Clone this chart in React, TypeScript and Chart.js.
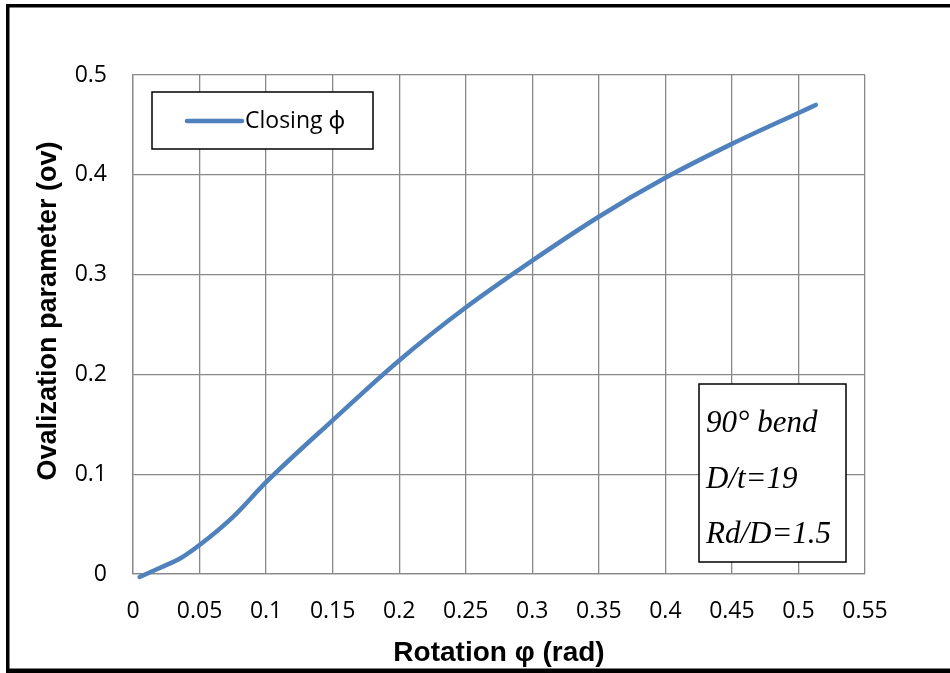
import React, { useEffect, useRef } from 'react';
import { Chart, registerables } from 'chart.js';

Chart.register(...registerables);

// ---- data ----
const seriesLabel = 'Closing ϕ';
const rotation = [0.005, 0.02, 0.036, 0.05, 0.075, 0.1, 0.15, 0.2, 0.25, 0.3, 0.35, 0.4, 0.45, 0.5, 0.513];
const ovalization = [-0.003, 0.006, 0.016, 0.029, 0.057, 0.092, 0.154, 0.214, 0.267, 0.314, 0.358, 0.397, 0.431, 0.462, 0.47];
const xAxisTitle = 'Rotation φ (rad)';
const yAxisTitle = 'Ovalization parameter (ov)';
const noteLines = ['90° bend', 'D/t=19', 'Rd/D=1.5'];

const LINE_COLOR = '#4F81BD';
const GRID_COLOR = '#888888';
const TICK_FONT = '"Open Sans", "Noto Sans", sans-serif';
const TITLE_FONT = '"Liberation Sans", Arial, sans-serif';

const decorPlugin = {
  id: 'decor',
  afterDraw(chart: any) {
    const ctx = chart.ctx as CanvasRenderingContext2D;
    const area = chart.chartArea;
    ctx.save();

    // outer frame
    ctx.fillStyle = '#000';
    ctx.fillRect(6, 4, 3.5, 673);
    ctx.fillRect(6, 4, 944, 3.5);
    ctx.fillRect(6, 668.5, 944, 5);

    // y-axis title
    ctx.save();
    ctx.translate(49, 311);
    ctx.rotate(-Math.PI / 2);
    ctx.font = `bold 27px ${TITLE_FONT}`;
    ctx.fillStyle = '#000';
    ctx.textAlign = 'center';
    ctx.textBaseline = 'middle';
    ctx.fillText(yAxisTitle, 0, 0);
    ctx.restore();

    // legend box
    const lx = area.left + 19;
    const ly = area.top + 17;
    ctx.fillStyle = '#fff';
    ctx.fillRect(lx, ly, 221, 57);
    ctx.strokeStyle = '#000';
    ctx.lineWidth = 1.5;
    ctx.strokeRect(lx, ly, 221, 57);
    ctx.strokeStyle = LINE_COLOR;
    ctx.lineWidth = 4.5;
    ctx.lineCap = 'round';
    ctx.beginPath();
    ctx.moveTo(lx + 35, ly + 29);
    ctx.lineTo(lx + 90, ly + 29);
    ctx.stroke();
    ctx.fillStyle = '#000';
    ctx.font = `23px ${TICK_FONT}`;
    ctx.textAlign = 'left';
    ctx.textBaseline = 'middle';
    ctx.fillText(seriesLabel, lx + 93, ly + 29);

    // annotation box
    const bx = 699;
    const by = 384;
    ctx.fillStyle = '#fff';
    ctx.fillRect(bx, by, 147, 178);
    ctx.strokeStyle = '#000';
    ctx.lineWidth = 1.5;
    ctx.strokeRect(bx, by, 147, 178);
    ctx.fillStyle = '#000';
    ctx.font = `italic 31px "Liberation Serif", "Times New Roman", serif`;
    ctx.textAlign = 'left';
    ctx.textBaseline = 'alphabetic';
    noteLines.forEach((t, i) => {
      ctx.fillText(t, bx + 7, by + 48 + i * 55.5);
    });

    ctx.restore();
  },
};

export default function App() {
  const ref = useRef<HTMLCanvasElement>(null);

  useEffect(() => {
    document.body.style.margin = '0';
    const canvas = ref.current;
    if (!canvas) return;
    const chart = new Chart(canvas, {
      type: 'line',
      data: {
        datasets: [
          {
            label: seriesLabel,
            data: rotation.map((x, i) => ({ x, y: ovalization[i] })),
            borderColor: LINE_COLOR,
            backgroundColor: LINE_COLOR,
            borderWidth: 4.5,
            pointRadius: 0,
            cubicInterpolationMode: 'monotone',
            borderCapStyle: 'round',
            borderJoinStyle: 'round',
            fill: false,
            clip: false as any,
          },
        ],
      },
      options: {
        animation: false,
        responsive: false,
        maintainAspectRatio: false,
        layout: { padding: { left: 0, top: 75, right: 85, bottom: 0 } },
        plugins: {
          legend: { display: false },
          tooltip: { enabled: false },
        },
        scales: {
          x: {
            type: 'linear',
            min: 0,
            max: 0.55,
            afterFit: (s: any) => {
              s.height = 99;
            },
            ticks: {
              stepSize: 0.05,
              padding: 24,
              color: '#000',
              font: { family: TICK_FONT, size: 23 },
              maxRotation: 0,
              autoSkip: false,
              callback: (v: any) => String(Math.round(Number(v) * 100) / 100),
            },
            grid: { color: GRID_COLOR, lineWidth: 1.3, drawTicks: false },
            border: { display: true, color: GRID_COLOR, width: 1.3 },
            title: {
              display: true,
              text: xAxisTitle,
              color: '#000',
              font: { family: TITLE_FONT, size: 28, weight: 'bold' },
              padding: { top: 0, bottom: 3 },
            },
          },
          y: {
            type: 'linear',
            min: 0,
            max: 0.5,
            afterFit: (s: any) => {
              s.width = 133;
            },
            ticks: {
              stepSize: 0.1,
              padding: 26,
              color: '#000',
              font: { family: TICK_FONT, size: 23 },
              callback: (v: any) => String(Math.round(Number(v) * 10) / 10),
            },
            grid: { color: GRID_COLOR, lineWidth: 1.3, drawTicks: false },
            border: { display: true, color: GRID_COLOR, width: 1.3 },
          },
        },
      },
      plugins: [decorPlugin],
    } as any);
    return () => chart.destroy();
  }, []);

  return (
    <div style={{ width: 950, height: 673, background: '#fff' }}>
      <canvas ref={ref} width={950} height={673} style={{ display: 'block' }} />
    </div>
  );
}
